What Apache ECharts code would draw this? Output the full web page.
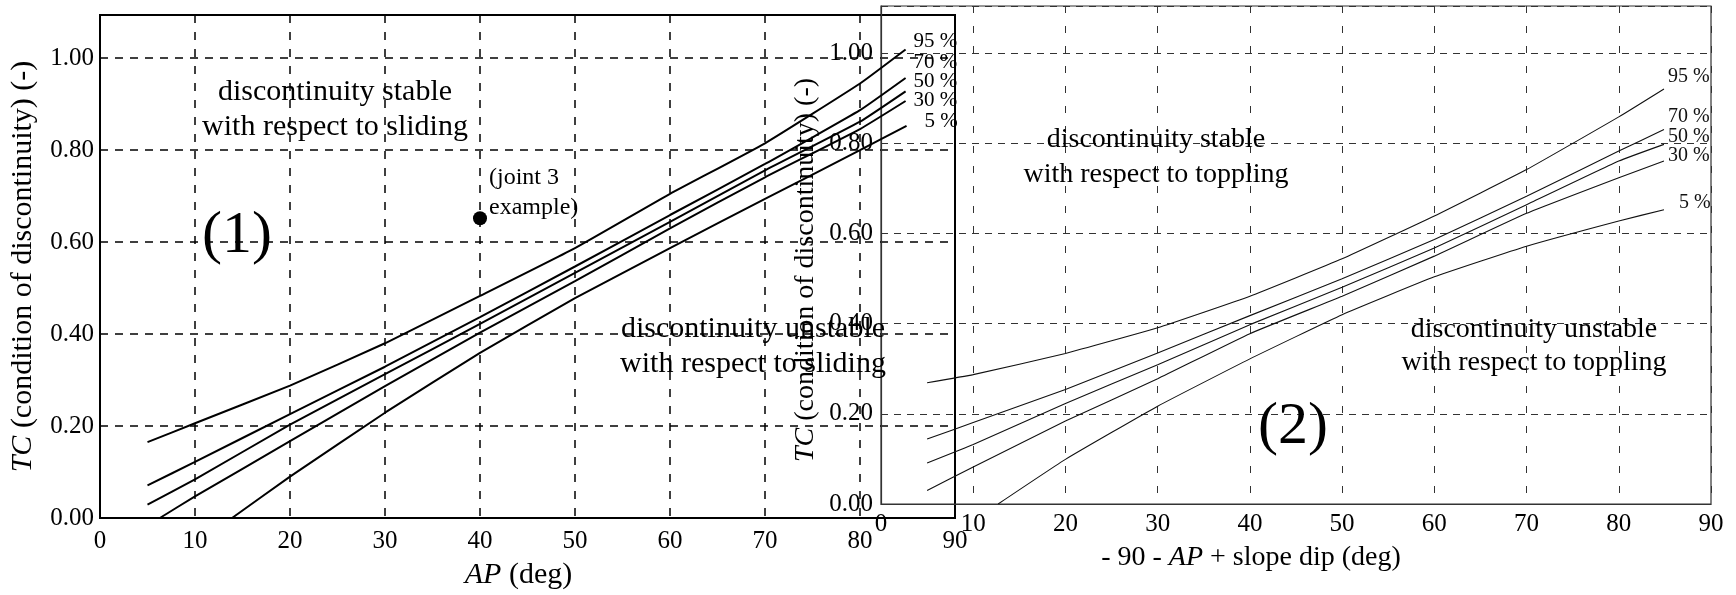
<!DOCTYPE html>
<html>
<head>
<meta charset="utf-8">
<script src="https://cdn.jsdelivr.net/npm/echarts@6/dist/echarts.min.js"></script>
<style>
  html, body { margin: 0; padding: 0; background: #fff; }
  #chart { width: 1736px; height: 595px; }
</style>
</head>
<body>
<div id="chart"></div>
<script>
// ---- data ----
// (1) sliding
const slideX = [5, 10, 20, 30, 40, 50, 60, 70, 80, 84.8];
const slide95 = [0.165, 0.206, 0.288, 0.380, 0.483, 0.587, 0.705, 0.815, 0.945, 1.019];
const slide70 = [0.071, 0.122, 0.226, 0.329, 0.437, 0.547, 0.659, 0.770, 0.887, 0.957];
const slide50 = [0.029, 0.084, 0.203, 0.313, 0.422, 0.533, 0.644, 0.756, 0.862, 0.928];
const slide30X = [6.3, 10, 20, 30, 40, 50, 60, 70, 80, 84.8];
const slide30 = [0, 0.047, 0.167, 0.287, 0.403, 0.515, 0.630, 0.741, 0.846, 0.907];
const slide5X = [13.9, 20, 30, 40, 50, 60, 70, 80, 84.9];
const slide5 = [0, 0.090, 0.229, 0.359, 0.478, 0.587, 0.694, 0.800, 0.853];
const jointPoint = [40, 0.652];

// (2) toppling
const toppleX = [5, 10, 20, 30, 40, 50, 60, 70, 80, 84.9];
const topple95 = [0.269, 0.287, 0.334, 0.391, 0.461, 0.544, 0.639, 0.742, 0.859, 0.921];
const topple70 = [0.144, 0.181, 0.254, 0.335, 0.418, 0.500, 0.587, 0.683, 0.783, 0.831];
const topple50 = [0.091, 0.132, 0.223, 0.309, 0.398, 0.481, 0.568, 0.664, 0.761, 0.798];
const topple30 = [0.030, 0.082, 0.184, 0.278, 0.378, 0.461, 0.550, 0.645, 0.724, 0.761];
const topple5X = [12.7, 20, 30, 40, 50, 60, 70, 80, 84.9];
const topple5 = [0, 0.099, 0.217, 0.322, 0.420, 0.504, 0.572, 0.628, 0.653];

const xTicks = [0, 90, 10];       // min, max, interval
const yTicks = [0, 0.2];          // min, interval
const pctNames = ['95 %', '70 %', '50 %', '30 %', '5 %'];

const FONT = 'Liberation Serif';

function pairs(xs, ys) {
  return xs.map((x, i) => [x, ys[i]]);
}

let dom = document.getElementById('chart');
let myChart = echarts.init(dom, null, { renderer: 'canvas' });

const slideSets = [
  [slideX, slide95, [0, -8]],
  [slideX, slide70, [0, -16]],
  [slideX, slide50, [0, -10]],
  [slide30X, slide30, [0, 0]],
  [slide5X, slide5, [10, -4]]
];
const toppleSets = [
  [toppleX, topple95, [-4, -12]],
  [toppleX, topple70, [-4, -13]],
  [toppleX, topple50, [-4, -8]],
  [toppleX, topple30, [-4, -5]],
  [topple5X, topple5, [7, -7]]
];

let series = [];
slideSets.forEach((s, i) => {
  series.push({
    name: 'slide ' + pctNames[i],
    type: 'line',
    xAxisIndex: 0,
    yAxisIndex: 0,
    data: pairs(s[0], s[1]),
    smooth: 0.12,
    symbol: 'none',
    lineStyle: { color: '#000', width: 2 },
    endLabel: {
      show: true,
      formatter: pctNames[i],
      offset: s[2],
      fontFamily: FONT,
      fontSize: 21,
      color: '#000'
    },
    z: 3
  });
});
toppleSets.forEach((s, i) => {
  series.push({
    name: 'topple ' + pctNames[i],
    type: 'line',
    xAxisIndex: 1,
    yAxisIndex: 1,
    data: pairs(s[0], s[1]),
    smooth: 0.12,
    symbol: 'none',
    lineStyle: { color: '#111', width: 1.1 },
    endLabel: {
      show: true,
      formatter: pctNames[i],
      offset: s[2],
      fontFamily: FONT,
      fontSize: 20,
      color: '#111'
    },
    z: 3
  });
});
series.push({
  name: 'joint 3',
  type: 'scatter',
  xAxisIndex: 0,
  yAxisIndex: 0,
  data: [jointPoint],
  symbolSize: 14,
  itemStyle: { color: '#000', opacity: 1 },
  label: {
    show: true,
    position: 'right',
    distance: 2,
    offset: [0, -26],
    formatter: '(joint 3\nexample)',
    fontFamily: FONT,
    fontSize: 24,
    lineHeight: 30,
    color: '#000',
    opacity: 1
  },
  z: 4
});

function regionText(x, y, text, size, lh) {
  return {
    type: 'text',
    x: x,
    y: y,
    z: 10,
    style: {
      text: text,
      fontFamily: FONT,
      fontSize: size,
      lineHeight: lh,
      align: 'center',
      verticalAlign: 'middle',
      fill: '#000'
    }
  };
}

let option = {
  animation: false,
  backgroundColor: '#fff',
  grid: [
    { left: 100, top: 15, width: 855, height: 507, show: true, borderColor: '#000', borderWidth: 2 },
    { left: 881, top: 6, width: 830, height: 498, show: true, borderColor: '#333', borderWidth: 1.2 }
  ],
  xAxis: [
    {
      type: 'value', gridIndex: 0, min: xTicks[0], max: xTicks[1], interval: xTicks[2],
      name: '{i|AP} (deg)',
      nameLocation: 'middle',
      nameGap: 42,
      nameTextStyle: {
        fontFamily: FONT, fontSize: 30, color: '#000', padding: [0, 18, 0, 0],
        rich: { i: { fontFamily: FONT, fontSize: 30, fontStyle: 'italic', color: '#000' } }
      },
      axisLine: { lineStyle: { color: '#000', width: 2 } },
      axisTick: { show: false },
      axisLabel: { fontFamily: FONT, fontSize: 25, color: '#000', margin: 11 },
      splitLine: { lineStyle: { color: '#000', width: 1.5, type: [8, 9] } }
    },
    {
      type: 'value', gridIndex: 1, min: xTicks[0], max: xTicks[1], interval: xTicks[2],
      name: '- 90 - {i|AP} + slope dip (deg)',
      nameLocation: 'middle',
      nameGap: 40,
      nameTextStyle: {
        fontFamily: FONT, fontSize: 28, color: '#000', padding: [0, 90, 0, 0],
        rich: { i: { fontFamily: FONT, fontSize: 28, fontStyle: 'italic', color: '#000' } }
      },
      axisLine: { lineStyle: { color: '#333', width: 1.2 } },
      axisTick: { show: false },
      axisLabel: { fontFamily: FONT, fontSize: 25, color: '#000', margin: 8 },
      splitLine: { lineStyle: { color: '#333', width: 1, type: [7, 13] } }
    }
  ],
  yAxis: [
    {
      type: 'value', gridIndex: 0, min: yTicks[0], max: 1.094, interval: yTicks[1],
      name: '{i|TC} (condition of discontinuity) (-)',
      nameLocation: 'middle',
      nameGap: 62,
      nameTextStyle: {
        fontFamily: FONT, fontSize: 30, color: '#000',
        rich: { i: { fontFamily: FONT, fontSize: 30, fontStyle: 'italic', color: '#000' } }
      },
      axisLine: { lineStyle: { color: '#000', width: 2 } },
      axisTick: { show: false },
      axisLabel: {
        fontFamily: FONT, fontSize: 25, color: '#000', margin: 6, showMaxLabel: false,
        formatter: v => v.toFixed(2)
      },
      splitLine: { lineStyle: { color: '#000', width: 1.5, type: [8, 7] } }
    },
    {
      type: 'value', gridIndex: 1, min: yTicks[0], max: 1.105, interval: yTicks[1],
      name: '{i|TC} (condition of discontinuity) (-)',
      nameLocation: 'middle',
      nameGap: 61,
      nameTextStyle: {
        fontFamily: FONT, fontSize: 28, color: '#000', padding: [0, 30, 0, 0],
        rich: { i: { fontFamily: FONT, fontSize: 28, fontStyle: 'italic', color: '#000' } }
      },
      axisLine: { lineStyle: { color: '#333', width: 1.2 } },
      axisTick: { show: false },
      axisLabel: {
        fontFamily: FONT, fontSize: 25, color: '#000', margin: 8, showMaxLabel: false,
        formatter: v => v.toFixed(2)
      },
      splitLine: { lineStyle: { color: '#333', width: 1, type: [7, 6] } }
    }
  ],
  graphic: [
    regionText(335, 110, 'discontinuity stable\nwith respect to sliding', 30, 35),
    regionText(753, 347, 'discontinuity unstable\nwith respect to sliding', 30, 35),
    regionText(237, 236, '(1)', 60, 60),
    regionText(1156, 157, 'discontinuity stable\nwith respect to toppling', 28, 35),
    regionText(1534, 346, 'discontinuity unstable\nwith respect to toppling', 28, 33),
    regionText(1293, 427, '(2)', 60, 60)
  ],
  series: series
};

if (option && typeof option === 'object') {
  myChart.setOption(option);
}

window.addEventListener('resize', myChart.resize);
</script>
</body>
</html>
